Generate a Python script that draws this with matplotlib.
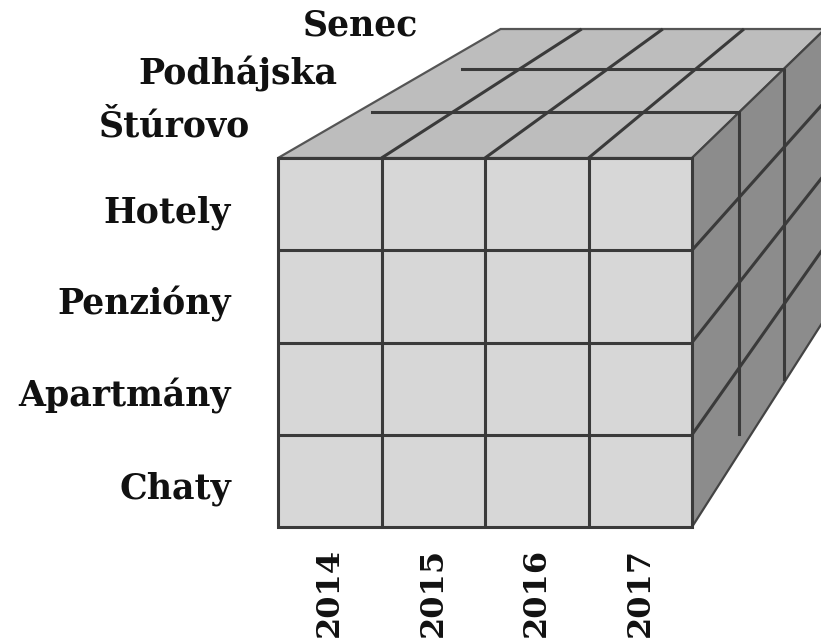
import numpy as np
import matplotlib.pyplot as plt
from matplotlib.patches import Polygon

# cube dimensions: years (columns), accommodation types (rows), cities (depth)
years = ['2014', '2015', '2016', '2017']
types = ['Hotely', 'Penzióny', 'Apartmány', 'Chaty']   # top to bottom
cities = ['Štúrovo', 'Podhájska', 'Senec']              # front to back

# projection of the cube into figure pixels (y grows downward)
x0, y0 = 278, 527          # front bottom-left corner
cw, rh = 103.5, 92.25      # front cell size
vp = np.array([1308, -439])  # vanishing point of the depth direction


def depth_t(w):
    return 0.0798 * w / (1 + 0.036 * w)


def proj(u, v, w):
    f = np.array([x0 + u * cw, y0 - v * rh])
    return f + (vp - f) * depth_t(w)


nx, ny, nz = len(years), len(types), len(cities)

fig = plt.figure(figsize=(8.21, 6.43), dpi=100)
ax = fig.add_axes([0, 0, 1, 1])
ax.set_xlim(0, 821)
ax.set_ylim(643, 0)
ax.axis('off')

line_col = '#3a3a3a'
lw = 2.2

# faces
front = [proj(0, 0, 0), proj(nx, 0, 0), proj(nx, ny, 0), proj(0, ny, 0)]
top = [proj(0, ny, 0), proj(nx, ny, 0), proj(nx, ny, nz), proj(0, ny, nz)]
right = [proj(nx, 0, 0), proj(nx, 0, nz), proj(nx, ny, nz), proj(nx, ny, 0)]
ax.add_patch(Polygon(top, closed=True, fc='#bdbdbd', ec='#555555', lw=1.6, zorder=1))
ax.add_patch(Polygon(right, closed=True, fc='#8c8c8c', ec='#444444', lw=1.6, zorder=1))
ax.add_patch(Polygon(front, closed=True, fc='#d7d7d7', ec=line_col, lw=lw, zorder=2))


def seg(a, b):
    ax.plot([a[0], b[0]], [a[1], b[1]], color=line_col, lw=lw,
            solid_capstyle='butt', zorder=3)


# front grid
for i in range(1, nx):
    seg(proj(i, 0, 0), proj(i, ny, 0))
for j in range(1, ny):
    seg(proj(0, j, 0), proj(nx, j, 0))

# top face: year lines running back
for i in range(1, nx):
    seg(proj(i, ny, 0), proj(i, ny, nz))
# right face: type lines running back
for j in range(1, ny):
    seg(proj(nx, j, 0), proj(nx, j, nz))

# city slices (L-shaped lines across top and right faces)
for k in range(1, nz):
    pts = np.array([proj(0.15 * k + 0.05 * (k - 1), ny, k), proj(nx, ny, k),
                    proj(nx, 0.22 if k == 1 else 0.05, k)])
    ax.plot(pts[:, 0], pts[:, 1], color=line_col, lw=lw, zorder=3)

font = dict(family='DejaVu Serif', fontweight='bold', color='#111111')

# type labels
for j, name in enumerate(types):
    p = proj(0, ny - j - 0.5, 0)
    ax.text(p[0] - 47, p[1] + 18, name, ha='right', va='baseline',
            fontsize=25, **font)

# city labels
for k, name in enumerate(cities):
    p = proj(0, ny, k + 0.5)
    ax.text(p[0] - 68 + 10 * k, p[1] + 2 - 7.5 * k, name, ha='right',
            va='baseline', fontsize=25, **font)

# year labels
for i, name in enumerate(years):
    p = proj(i + 0.5, 0, 0)
    ax.text(p[0], p[1] + 21, name, rotation=90, ha='center', va='top',
            fontsize=23, **font)

fig.savefig('out.png', dpi=100)
